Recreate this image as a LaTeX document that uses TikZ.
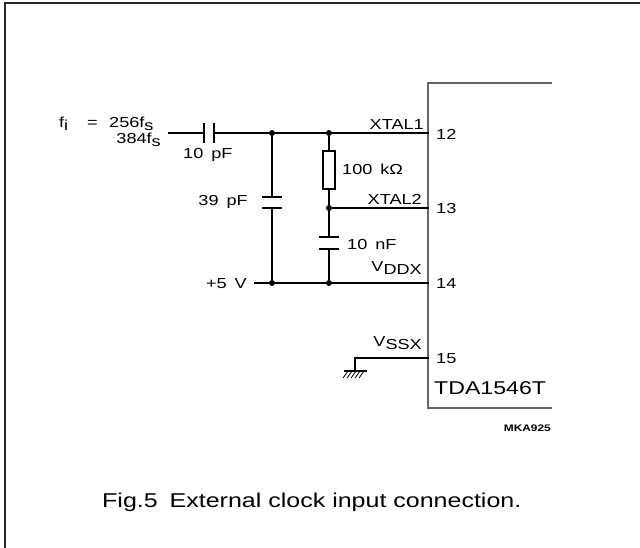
\documentclass[tikz,border=0pt]{standalone}
\usepackage{fontspec}
\setmainfont[FakeStretch=1.25]{Liberation Sans}
\newcommand{\lowr}[1]{\raisebox{-3.5pt}{#1}}
\begin{document}
\begin{tikzpicture}[x=1pt,y=-1pt,
  wire/.style={line width=1.1pt,black},
  chip/.style={line width=1.4pt,black!60},
  frame/.style={line width=1.8pt,black!85},
  dot/.style={circle,fill=black,inner sep=0pt,minimum size=6pt},
  lbl/.style={inner sep=0pt,font=\fontsize{14.5}{14.5}\selectfont},
  pinno/.style={inner sep=0pt,anchor=west,font=\fontsize{14.5}{14.5}\selectfont},
  plate/.style={line width=1.4pt,black}]
\useasboundingbox (0,0) rectangle (640,547);
\begin{scope}
\clip (0,0) rectangle (640,547);
\draw[frame] (5,560) -- (5,3) -- (660,3);
\end{scope}
% chip outline
\draw[chip] (552,83) -- (428,83) -- (428,408) -- (552,408);
% coordinates
\coordinate (in) at (168,133);
\coordinate (c1a) at (204,133);
\coordinate (c1b) at (214,133);
\node[dot] (n1) at (272,133) {};
\node[dot] (n2) at (329,133) {};
\coordinate (p12) at (429,133);
\coordinate (c2a) at (272,197);
\coordinate (c2b) at (272,208);
\node[draw,line width=1.1pt,minimum width=12pt,minimum height=38pt,inner sep=0pt] (R) at (329,170) {};
\node[dot] (n3) at (329,208) {};
\coordinate (p13) at (429,208);
\coordinate (c3a) at (329,237);
\coordinate (c3b) at (329,249);
\coordinate (vin) at (254,283);
\node[dot] (n4) at (272,283) {};
\node[dot] (n5) at (329,283) {};
\coordinate (p14) at (429,283);
\coordinate (p15) at (429,358);
\coordinate (gnd) at (355,358);
\coordinate (gb) at (355,371);
% wires
\draw[wire] (in) -- (c1a);
\draw[wire] (c1b) -- (n1) -- (n2) -- (p12);
\draw[plate] (204,123) -- (204,143);
\draw[plate] (214,123) -- (214,143);
\draw[wire] (n1) -- (c2a);
\draw[wire] (c2b) -- (n4);
\draw[plate] (262,197) -- (282,197);
\draw[plate] (262,208) -- (282,208);
\draw[wire] (n2) -- (R.north);
\draw[wire] (R.south) -- (n3) -- (p13);
\draw[wire] (n3) -- (c3a);
\draw[wire] (c3b) -- (n5);
\draw[plate] (319,237) -- (339,237);
\draw[plate] (319,249) -- (339,249);
\draw[wire] (vin) -- (n4) -- (n5) -- (p14);
\draw[wire] (p15) -- (gnd) -- (gb);
\draw[wire] (344,371) -- (367,371);
\foreach \x in {348,352,...,367} \draw[line width=0.8pt] (\x,371) -- (\x-5,378);
% labels
\node[lbl,anchor=base west] (fi) at (59,127) {\makebox[28pt][l]{f\raisebox{-3pt}{i}}\makebox[22pt][l]{=}256f\raisebox{-3pt}{s}};
\node[lbl,anchor=base east] (f2) at (161,143) {384f\raisebox{-3pt}{s}};
\node[lbl,anchor=base west] (l10p) at (183,158) {10\hspace{8pt}pF};
\node[lbl,anchor=base east] (l39p) at (248,205) {39\hspace{8pt}pF};
\node[lbl,anchor=base east] (l5v) at (247,288) {+5\hspace{8pt}V};
\node[lbl,anchor=base west] (l100k) at (342,174) {100\hspace{8pt}kΩ};
\node[lbl,anchor=base west] (l10n) at (347,249) {10\hspace{8pt}nF};
\node[lbl,anchor=base east] (x1) at (424,129) {XTAL1};
\node[lbl,anchor=base east] (x2) at (422,204) {XTAL2};
\node[lbl,anchor=base east] (vddx) at (422,271) {V\lowr{DDX}};
\node[lbl,anchor=base east] (vssx) at (422,346) {V\lowr{SSX}};
\node[pinno] (n12) at (436,134) {12};
\node[pinno] (n13) at (436,209) {13};
\node[pinno] (n14) at (436,284) {14};
\node[pinno] (n15) at (436,359) {15};
\node[inner sep=0pt,anchor=base west,font=\fontsize{18.5}{18.5}\selectfont] (ic) at (434,394) {TDA1546T};
\node[inner sep=0pt,anchor=base east,font=\fontsize{9.5}{9.5}\selectfont\bfseries] (mka) at (551,431) {MKA925};
\node[inner sep=0pt,anchor=base west,font=\fontsize{20}{20}\selectfont] (cap) at (102,507) {Fig.5\hspace{5pt} External clock input connection.};
\end{tikzpicture}
\end{document}
